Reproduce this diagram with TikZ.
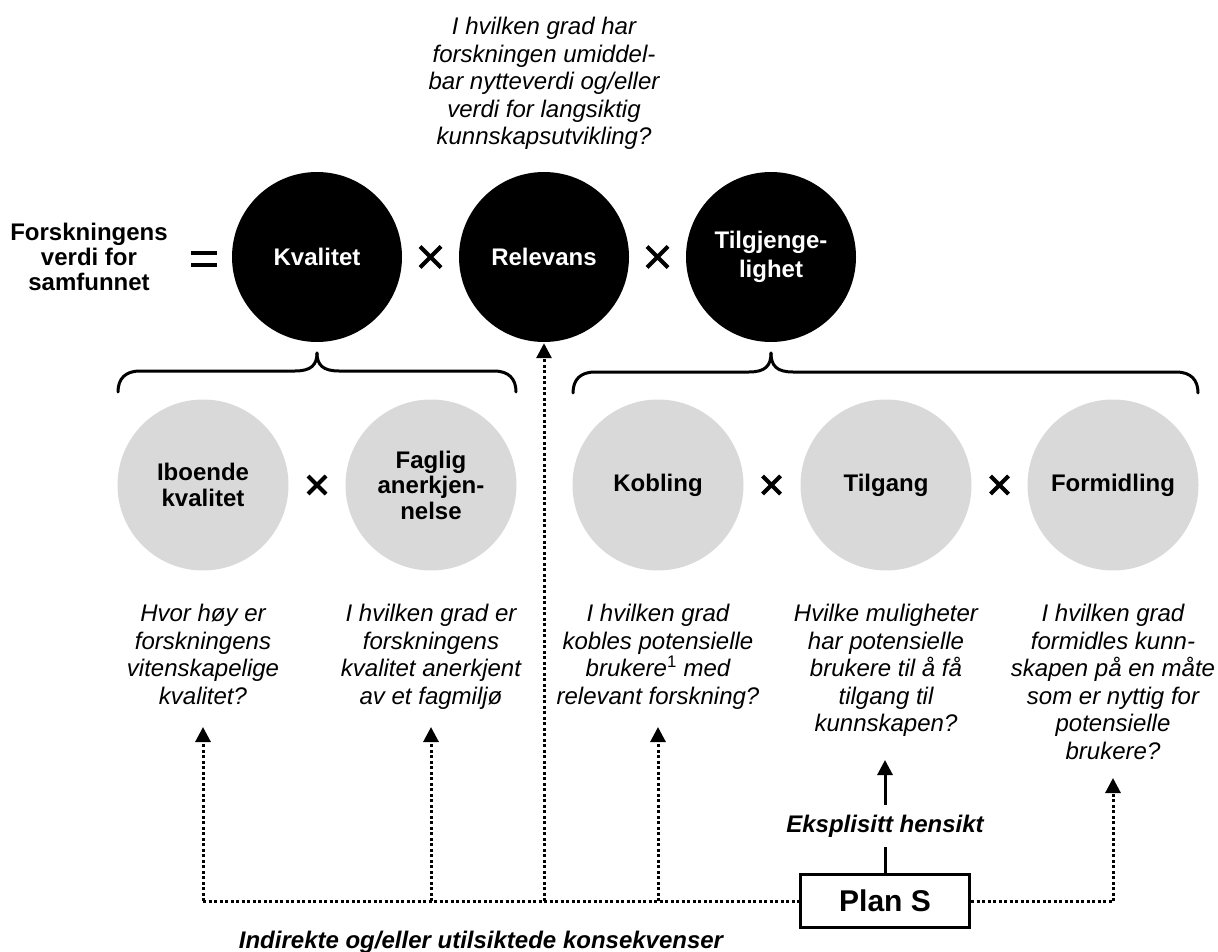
\documentclass[tikz,border=0pt]{standalone}
\usepackage{fontspec}
\setmainfont{Liberation Sans}
\usetikzlibrary{arrows.meta,calc}
\definecolor{lgray}{RGB}{217,217,217}
\begin{document}
\begin{tikzpicture}[x=1pt,y=-1pt,
  bigc/.style={circle,fill=black,minimum size=170pt,inner sep=0pt,text=white,font=\fontsize{24}{28.5}\selectfont\bfseries,align=center},
  grayc/.style={circle,fill=lgray,minimum size=171pt,inner sep=0pt,text=black,font=\fontsize{24}{25.5}\selectfont\bfseries,align=center},
  qtext/.style={anchor=north,inner sep=0pt,align=center,font=\fontsize{24}{27.5}\selectfont\itshape},
  blabel/.style={align=center,inner sep=0pt,font=\fontsize{24}{25}\selectfont\bfseries},
  dotline/.style={line width=3pt,dash pattern=on 3pt off 2.5pt},
  dotarrow/.style={dotline,-{Triangle[length=15pt,width=15pt]}},
  solidarrow/.style={line width=3pt,-{Triangle[length=15pt,width=15pt]}},
  bracepath/.style={line width=3pt,line cap=round},
  opmark/.style={line width=4pt},
]
\useasboundingbox (0,0) rectangle (1218,952);

% left label and equals sign
\node[blabel] (lab) at (89,257) {Forskningens\\verdi for\\samfunnet};
\draw[opmark] (191,253) -- (217,253) (191,265) -- (217,265);

% top circles
\node[bigc] (kval) at (317,257) {Kvalitet};
\node[bigc] (rel) at (544,257) {Relevans};
\node[bigc] (tilg) at (771,257) {Tilgjenge-\\lighet};

% top question
\node[qtext] (q0) at (544,17) {I hvilken grad har\\forskningen umiddel-\\bar nytteverdi og/eller\\verdi for langsiktig\\kunnskapsutvikling?};

% gray circles
\node[grayc] (ibo) at (203,485) {Iboende\\kvalitet};
\node[grayc] (fag) at (431,485) {Faglig\\anerkjen-\\nelse};
\node[grayc] (kob) at (658,485) {Kobling};
\node[grayc] (tgang) at (886,485) {Tilgang};
\node[grayc] (form) at (1113,485) {Formidling};

% multiplication signs
\foreach \x/\y/\s in {430.5/257/10.5, 657.5/257/10.5, 317/485/9, 771.5/485/9, 999.5/485/9}
  \draw[opmark] (\x-\s,\y-\s) -- (\x+\s,\y+\s) (\x-\s,\y+\s) -- (\x+\s,\y-\s);

% braces
\draw[bracepath] (118,392) .. controls (118,379) and (125,371) .. (140,371) -- (295,371) .. controls (311,371) and (317,365) .. (317,353);
\draw[bracepath] (317,353) .. controls (317,365) and (323,371) .. (339,371) -- (494,371) .. controls (509,371) and (516,379) .. (516,392);
\draw[bracepath] (573,393) .. controls (573,380) and (580,372) .. (595,372) -- (749,372) .. controls (765,372) and (771,366) .. (771,353);
\draw[bracepath] (771,353) .. controls (771,366) and (777,372) .. (793,372) -- (1176,372) .. controls (1191,372) and (1198,380) .. (1198,393);

% bottom questions
\node[qtext] (q1) at (203,604) {Hvor høy er\\forskningens\\vitenskapelige\\kvalitet?};
\node[qtext] (q2) at (431,604) {I hvilken grad er\\forskningens\\kvalitet anerkjent\\av et fagmiljø};
\node[qtext] (q3) at (658,604) {I hvilken grad\\kobles potensielle\\brukere\textsuperscript{\upshape 1} med\\relevant forskning?};
\node[qtext] (q4) at (886,604) {Hvilke muligheter\\har potensielle\\brukere til å få\\tilgang til\\kunnskapen?};
\node[qtext] (q5) at (1113,604) {I hvilken grad\\formidles kunn-\\skapen på en måte\\som er nyttig for\\potensielle\\brukere?};

% Plan S and connectors
\node[draw,line width=3pt,minimum width=169pt,minimum height=53pt,inner sep=0pt,font=\fontsize{30}{32}\selectfont\bfseries] (plan) at (885,901) {Plan S};
\node[inner xsep=2pt,inner ysep=9.75pt,font=\fontsize{24}{26}\selectfont\bfseries\itshape] (eks) at (885,826) {Eksplisitt hensikt};
\coordinate (t4) at (885,760);
\draw[line width=3pt] (plan.north) -- (eks.south);
\draw[solidarrow] (eks.north) -- (t4);

\coordinate (h1) at (203,901);
\coordinate (h2) at (431,901);
\coordinate (h0) at (544,901);
\coordinate (h3) at (658,901);
\coordinate (h5) at (1113,901);
\coordinate (t1) at (203,727);
\coordinate (t2) at (431,727);
\coordinate (t3) at (658,727);
\coordinate (t5) at (1113,778);

\draw[dotline] (h1) -- (plan.west);
\draw[dotline] (plan.east) -- (h5);
\draw[dotarrow] (h1) -- (t1);
\draw[dotarrow] (h2) -- (t2);
\draw[dotarrow] (h3) -- (t3);
\draw[dotarrow] (h5) -- (t5);
\draw[dotarrow,shorten >=1pt] (h0) -- (rel.south);

\node[anchor=base,inner sep=0pt,font=\fontsize{24}{26}\selectfont\bfseries\itshape] (ind) at (481,948) {Indirekte og/eller utilsiktede konsekvenser};
\end{tikzpicture}
\end{document}
